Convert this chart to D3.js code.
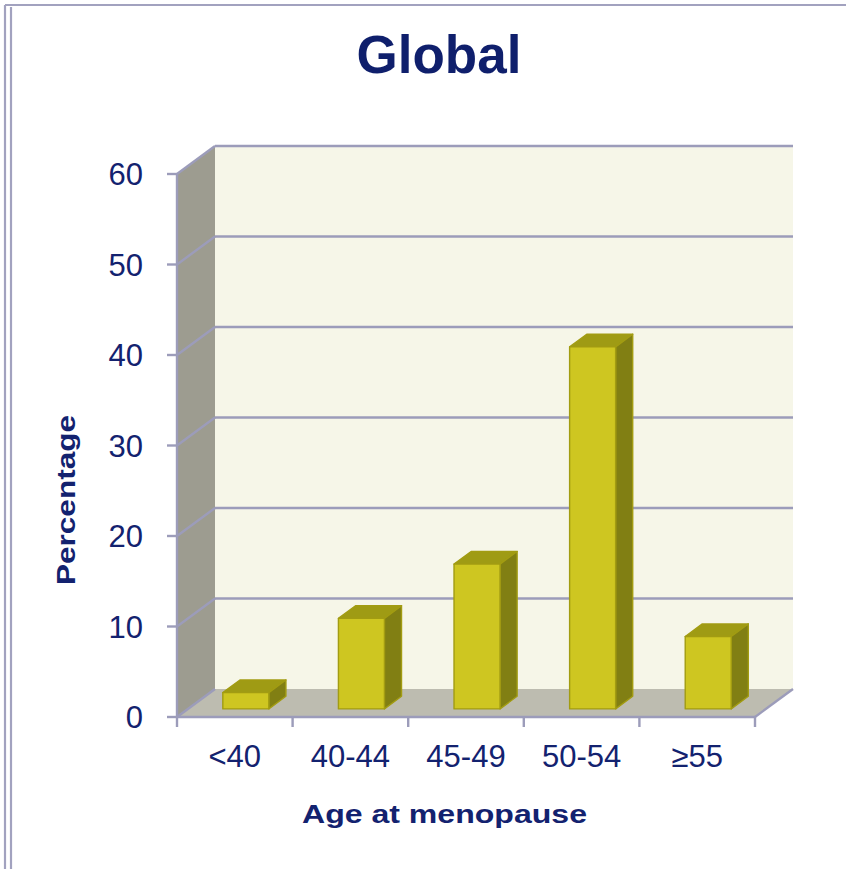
<!DOCTYPE html>
<html>
<head>
<meta charset="utf-8">
<script src="https://cdn.jsdelivr.net/npm/d3@7/dist/d3.min.js"></script>
<style>
  html, body { margin: 0; padding: 0; background: #ffffff; }
  svg { display: block; }
  text { font-family: "Liberation Sans", Arial, sans-serif; }
</style>
</head>
<body>
<svg id="chart" width="846" height="869"></svg>
<script>
// Share of women by age at menopause (global)
const categories = ["<40", "40-44", "45-49", "50-54", "\u226555"];
const percentages = [1.8, 10, 16, 40, 8];
const yTicks = [0, 10, 20, 30, 40, 50, 60];

const W = 846, H = 869;
const svg = d3.select("#chart");

const ink = "#13226f";
const gridColor = "#9c9cba";

// Front plane of the 3-D box, and depth offset to the back wall
const x0 = 177, x1 = 755;
const depthDX = 38, depthDY = -28;

const x = d3.scaleBand().domain(categories).range([x0, x1]).paddingInner(0).paddingOuter(0);
const y = d3.scaleLinear().domain([0, 60]).range([717, 174]);

// project a point (front-plane x, value, depth 0..1)
const P = (px, v, d) => [px + d * depthDX, y(v) + d * depthDY];
const poly = pts => pts.map(p => p.join(",")).join(" ");

// Page frame
const frame = svg.append("g").attr("fill", "none").attr("stroke", "#a2a2bf");
frame.append("line").attr("x1", 5).attr("y1", 5).attr("x2", W).attr("y2", 5).attr("stroke-width", 2.2);
frame.append("line").attr("x1", 5).attr("y1", 5).attr("x2", 5).attr("y2", H).attr("stroke-width", 2.2);
frame.append("line").attr("x1", 11).attr("y1", 7).attr("x2", 11).attr("y2", H).attr("stroke-width", 2.2);

// Title
svg.append("text")
  .attr("x", 439).attr("y", 73)
  .attr("text-anchor", "middle")
  .attr("font-size", 53).attr("font-weight", "bold")
  .attr("fill", "#0f1f6c")
  .text("Global");

const box = svg.append("g");

// back wall
box.append("polygon")
  .attr("points", poly([P(x0, 60, 1), P(x1, 60, 1), P(x1, 0, 1), P(x0, 0, 1)]))
  .attr("fill", "#f6f6e8");

// side wall
box.append("polygon")
  .attr("points", poly([P(x0, 60, 0), P(x0, 60, 1), P(x0, 0, 1), P(x0, 0, 0)]))
  .attr("fill", "#9d9c90");

// floor
box.append("polygon")
  .attr("points", poly([P(x0, 0, 0), P(x1, 0, 0), P(x1, 0, 1), P(x0, 0, 1)]))
  .attr("fill", "#bdbcb0");

// gridlines on back wall and side wall
const grid = box.append("g").attr("stroke", gridColor).attr("stroke-width", 2.4).attr("fill", "none");
yTicks.forEach(v => {
  if (v > 0) {
    grid.append("line")
      .attr("x1", P(x0, v, 1)[0]).attr("y1", P(x0, v, 1)[1])
      .attr("x2", P(x1, v, 1)[0]).attr("y2", P(x1, v, 1)[1]);
  }
  grid.append("line")
    .attr("x1", P(x0, v, 0)[0]).attr("y1", P(x0, v, 0)[1])
    .attr("x2", P(x0, v, 1)[0]).attr("y2", P(x0, v, 1)[1]);
});
// floor right edge
grid.append("line")
  .attr("x1", P(x1, 0, 0)[0]).attr("y1", P(x1, 0, 0)[1])
  .attr("x2", P(x1, 0, 1)[0]).attr("y2", P(x1, 0, 1)[1]);

// Bars as 3-D blocks
const barW = 46, d0 = 0.29, d1 = 0.74;
const bars = box.append("g").attr("stroke", "#a29c12").attr("stroke-width", 1.4).attr("stroke-linejoin", "round");
categories.forEach((c, i) => {
  const v = percentages[i];
  const cx = x(c) + x.bandwidth() / 2;
  const l = cx - barW / 2, r = cx + barW / 2;
  const g = bars.append("g");
  // top face
  g.append("polygon")
    .attr("points", poly([P(l, v, d0), P(r, v, d0), P(r, v, d1), P(l, v, d1)]))
    .attr("fill", "#9f9b14");
  // side face
  g.append("polygon")
    .attr("points", poly([P(r, 0, d0), P(r, v, d0), P(r, v, d1), P(r, 0, d1)]))
    .attr("fill", "#817f13");
  // front face
  g.append("polygon")
    .attr("points", poly([P(l, 0, d0), P(r, 0, d0), P(r, v, d0), P(l, v, d0)]))
    .attr("fill", "#cec621");
});

// Axes
const axes = svg.append("g").attr("stroke", gridColor).attr("stroke-width", 2.4).attr("fill", "none");
axes.append("line").attr("x1", x0).attr("y1", y(60)).attr("x2", x0).attr("y2", y(0));
axes.append("line").attr("x1", x0).attr("y1", y(0)).attr("x2", x1).attr("y2", y(0));
yTicks.forEach(v => {
  axes.append("line").attr("x1", x0 - 10).attr("y1", y(v)).attr("x2", x0).attr("y2", y(v));
});
const bounds = categories.map(c => x(c)).concat([x1]);
bounds.forEach(bx => {
  axes.append("line").attr("x1", bx).attr("y1", y(0)).attr("x2", bx).attr("y2", y(0) + 10);
});

// Y tick labels
svg.append("g").selectAll("text").data(yTicks).join("text")
  .attr("x", 143).attr("y", d => y(d) + 11)
  .attr("text-anchor", "end")
  .attr("font-size", 31).attr("fill", ink)
  .text(d => d);

// X tick labels
svg.append("g").selectAll("text").data(categories).join("text")
  .attr("x", d => x(d) + x.bandwidth() / 2).attr("y", 767)
  .attr("text-anchor", "middle")
  .attr("font-size", 31).attr("fill", ink)
  .text(d => d);

// Axis titles
svg.append("text")
  .attr("transform", "translate(75,500) rotate(-90)")
  .attr("text-anchor", "middle")
  .attr("font-size", 25).attr("font-weight", "bold").attr("fill", ink)
  .attr("textLength", 170).attr("lengthAdjust", "spacingAndGlyphs")
  .text("Percentage");

svg.append("text")
  .attr("x", 444.5).attr("y", 823)
  .attr("text-anchor", "middle")
  .attr("font-size", 25).attr("font-weight", "bold").attr("fill", ink)
  .attr("textLength", 285).attr("lengthAdjust", "spacingAndGlyphs")
  .text("Age at menopause");
</script>
</body>
</html>
